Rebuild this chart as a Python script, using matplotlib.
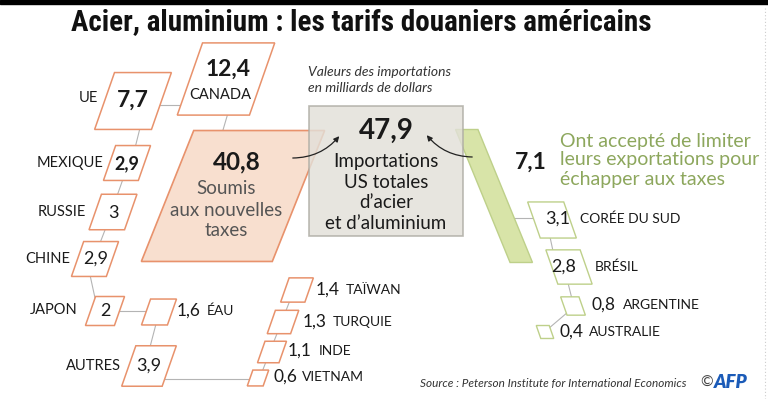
import numpy as np
import matplotlib
matplotlib.use("Agg")
import matplotlib.pyplot as plt
from matplotlib.patches import Polygon, Rectangle, FancyArrowPatch

plt.rcParams['font.family'] = ['Lato', 'DejaVu Sans']

# --- data (milliards de dollars) ---
total_value = 47.9
taxed_value = 40.8
quota_value = 7.1

taxed_names = ['CANADA', 'UE', 'MEXIQUE', 'RUSSIE', 'CHINE', 'JAPON', 'ÉAU', 'AUTRES',
               'TAÏWAN', 'TURQUIE', 'INDE', 'VIETNAM']
taxed_values = [12.4, 7.7, 2.9, 3.0, 2.9, 2.0, 1.6, 3.9, 1.4, 1.3, 1.1, 0.6]

quota_names = ['CORÉE DU SUD', 'BRÉSIL', 'ARGENTINE', 'AUSTRALIE']
quota_values = [3.1, 2.8, 0.8, 0.4]

# --- layout (pixels) ---
K = 20.5  # side of a box = K * sqrt(value)
taxed_centers = [(226, 79), (133, 101), (127, 163), (113, 212), (95, 259), (105, 311),
                 (159, 312), (149, 366), (297, 290), (283, 322), (272, 352), (258, 378)]
quota_centers = [(552, 220), (569, 267), (573, 306), (545, 332)]

PINK_EDGE = '#e8926c'
PINK_FILL = '#f8dfcf'
GREEN_EDGE = '#bed08a'
GREEN_FILL = '#d8e4a8'
GREEN_TEXT = '#8da75d'
LINK = '#b4b4b4'


def fmt(v):
    s = ('%.1f' % v).replace('.', ',')
    return s[:-2] if s.endswith(',0') else s


def para(ax, cx, cy, w, h, skew, edge, fill, lw=1.1, z=2, alpha=1.0):
    pts = [(cx - w / 2 + skew / 2, cy - h / 2), (cx + w / 2 + skew / 2, cy - h / 2),
           (cx + w / 2 - skew / 2, cy + h / 2), (cx - w / 2 - skew / 2, cy + h / 2)]
    ax.add_patch(Polygon(pts, closed=True, facecolor=fill, edgecolor=edge, lw=lw,
                         zorder=z, alpha=alpha))


fig = plt.figure(figsize=(7.68, 3.99), dpi=100)
ax = fig.add_axes([0, 0, 1, 1])
ax.set_xlim(0, 768)
ax.set_ylim(399, 0)
ax.axis('off')

# top black band and dotted right border
ax.add_patch(Rectangle((0, 0), 768, 4, color='black', zorder=1))
ax.plot([765, 765], [8, 399], color='#cccccc', lw=0.8, ls=(0, (1, 2)), zorder=1)

ax.text(361, 22, 'Acier, aluminium : les tarifs douaniers américains',
        family=['Roboto Condensed', 'Lato', 'DejaVu Sans'], fontweight='bold',
        fontsize=21, ha='center', va='center', color='#111111')

# connector lines
links = [[(160, 105), (184, 105)], [(228, 113), (223, 130)], [(140, 128), (135, 148)],
         [(123, 179), (117, 196)], [(105, 230), (100, 243)], [(90, 275), (95, 298)],
         [(120, 311), (148, 311)], [(156, 324), (150, 347)], [(163, 379), (250, 379)],
         [(262, 372), (296, 285)], [(508, 218), (535, 218)], [(550, 237), (553, 251)],
         [(568, 283), (572, 299)], [(568, 312), (548, 329)]]
for seg in links:
    xs, ys = zip(*seg)
    ax.plot(xs, ys, color=LINK, lw=0.8, zorder=1)

# big pink parallelogram (taxed)
s_big = K * np.sqrt(taxed_value)
para(ax, 233, 196, s_big, s_big, 0.4 * s_big, PINK_EDGE, PINK_FILL, lw=1.2, z=2)

# green strip (quotas)
strip_h = 133
strip_w = K ** 2 * quota_value / strip_h
para(ax, 494, 196, strip_w, strip_h, -0.41 * strip_h, GREEN_EDGE, GREEN_FILL, lw=1.0, z=2)

# grey total box (semi transparent)
gw = K * np.sqrt(total_value * 1.175)
gh = K ** 2 * total_value / gw
ax.add_patch(Rectangle((386 - gw / 2, 171 - gh / 2), gw, gh, facecolor='#e2e0d9',
                       edgecolor='#aeaca4', lw=1.2, alpha=0.82, zorder=3))

# small boxes
for (cx, cy), v in zip(taxed_centers, taxed_values):
    s = K * np.sqrt(v)
    para(ax, cx, cy, s, s, 0.35 * s, PINK_EDGE, 'white', lw=1.1, z=4)
for (cx, cy), v in zip(quota_centers, quota_values):
    s = K * np.sqrt(v)
    para(ax, cx, cy, s, s, -0.35 * s, GREEN_EDGE, 'white', lw=1.0, z=4)

T = dict(zorder=6, color='#1a1a1a')

# CANADA / UE / MEXIQUE etc.
ax.text(228, 69, fmt(taxed_values[0]), fontsize=16.5, fontweight='bold', ha='center', va='center', **T)
ax.text(220, 95, taxed_names[0], fontsize=10.5, ha='center', va='center', **T)
ax.text(133, 100, fmt(taxed_values[1]), fontsize=16.5, fontweight='bold', ha='center', va='center', **T)
ax.text(98, 98, taxed_names[1], fontsize=10.5, ha='right', va='center', **T)
ax.text(127, 164, fmt(taxed_values[2]), fontsize=13, fontweight='bold', ha='center', va='center', **T)
ax.text(104, 163, taxed_names[2], fontsize=10.5, ha='right', va='center', **T)
ax.text(113, 213, fmt(taxed_values[3]), fontsize=13, ha='center', va='center', **T)
ax.text(86, 212, taxed_names[3], fontsize=10.5, ha='right', va='center', **T)
ax.text(96, 259, fmt(taxed_values[4]), fontsize=13, ha='center', va='center', **T)
ax.text(70, 259, taxed_names[4], fontsize=10.5, ha='right', va='center', **T)
ax.text(105, 311, fmt(taxed_values[5]), fontsize=13, ha='center', va='center', **T)
ax.text(78, 310, taxed_names[5], fontsize=10.5, ha='right', va='center', **T)
ax.text(149, 366, fmt(taxed_values[7]), fontsize=13, ha='center', va='center', **T)
ax.text(121, 366, taxed_names[7], fontsize=10.5, ha='right', va='center', **T)

# right-hand labels: number then name
side_labels = [(6, 177, 207, 311), (8, 316, 346, 290), (9, 303, 333, 322),
               (10, 288, 319, 351), (11, 274, 302, 377)]
for i, xn, xl, y in side_labels:
    ax.text(xn, y, fmt(taxed_values[i]), fontsize=12.5, ha='left', va='center', **T)
    ax.text(xl, y, taxed_names[i], fontsize=10, ha='left', va='center', **T)

# pink big text
ax.text(237, 162, fmt(taxed_value), fontsize=17.5, fontweight='bold', ha='center', va='center', **T)
for j, line in enumerate(['Soumis', 'aux nouvelles', 'taxes']):
    ax.text(226, 189 + 21 * j, line, fontsize=13.5, ha='center', va='center',
            color='#555555', zorder=6)

# grey box text
ax.text(308, 72, 'Valeurs des importations', fontsize=10, style='italic',
        ha='left', va='center', color='#333333')
ax.text(308, 88, 'en milliards de dollars', fontsize=10, style='italic',
        ha='left', va='center', color='#333333')
ax.text(386, 131, fmt(total_value), fontsize=20, fontweight='bold', ha='center', va='center', **T)
for j, line in enumerate(['Importations', 'US totales', 'd\u2019acier', 'et d\u2019aluminium']):
    ax.text(386, 162 + 20.5 * j, line, fontsize=13.5, ha='center', va='center', **T)

# green text
ax.text(531, 162, fmt(quota_value), fontsize=16.5, fontweight='bold', ha='center', va='center', **T)
for j, line in enumerate(['Ont accepté de limiter', 'leurs exportations pour',
                          'échapper aux taxes']):
    ax.text(560, 141 + 19 * j, line, fontsize=14, ha='left', va='center',
            color=GREEN_TEXT, zorder=6)

q_labels = [(558, 580, 219), (564, 595, 267), (592, 623, 305), (560, 589, 332)]
q_ha = ['center', 'center', 'left', 'left']
q_sizes = [13, 13, 12.5, 12.5]
for (xn, xl, y), v, name, fs, ha in zip(q_labels, quota_values, quota_names, q_sizes, q_ha):
    ax.text(xn, y, fmt(v), fontsize=fs, ha=ha, va='center', **T)
    ax.text(xl, y, name, fontsize=10, ha='left', va='center', **T)

# arrows
ax.add_patch(FancyArrowPatch((290, 158), (341, 134), connectionstyle='arc3,rad=0.25',
                             arrowstyle='-|>', mutation_scale=8, lw=0.9, color='#222222', zorder=7))
ax.add_patch(FancyArrowPatch((475, 157), (425, 133), connectionstyle='arc3,rad=-0.25',
                             arrowstyle='-|>', mutation_scale=8, lw=0.9, color='#222222', zorder=7))

# source / credit
ax.text(686, 383, 'Source : Peterson Institute for International Economics', fontsize=8.5,
        style='italic', ha='right', va='center', color='#333333')
ax.text(700, 383, '\u00a9', fontsize=11, ha='left', va='center', color='#444444')
ax.text(714, 382, 'AFP', fontsize=13.5, fontweight='heavy', style='italic', ha='left',
        va='center', color='#1b5bb8')

fig.savefig('out.png', dpi=100)
